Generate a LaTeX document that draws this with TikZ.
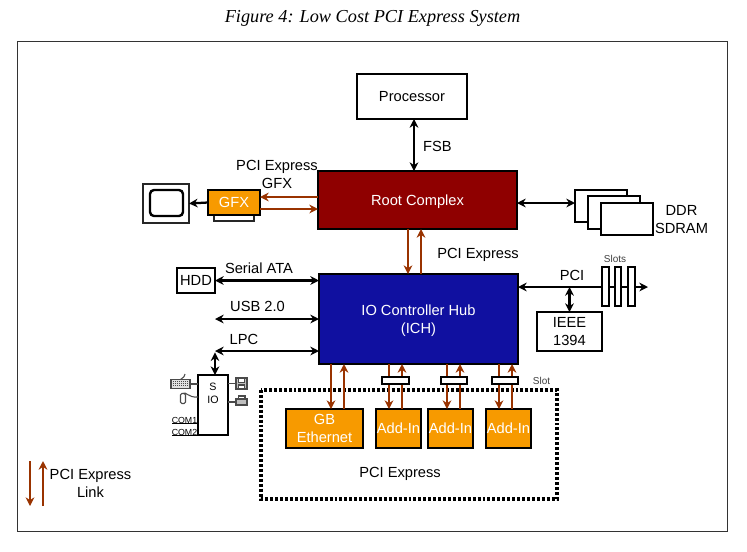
\documentclass[tikz,border=0pt]{standalone}
\usepackage{fontspec}
\setmainfont{Liberation Sans}
\newfontfamily\titlefont{Liberation Serif}
\usetikzlibrary{arrows.meta, positioning, calc}
\definecolor{RootRed}{HTML}{8F0000}
\definecolor{HubBlue}{HTML}{1010A0}
\definecolor{CardOrange}{HTML}{F79A00}
\definecolor{LinkBrown}{HTML}{993300}
\definecolor{IconGray}{HTML}{4A4A4A}
\def\U{0.75pt}
\tikzset{
  busbox/.style={draw=black, line width=1.9pt, inner sep=0pt, outer sep=0pt, align=center, text depth=0pt, font=\fontsize{11}{13.5}\selectfont},
  cardbox/.style={busbox, fill=CardOrange, text=white},
  slotbar/.style={draw=black, fill=white, line width=1.5pt, inner sep=0pt, outer sep=0pt},
  buslabel/.style={inner sep=0pt, align=center, font=\fontsize{11}{13.5}\selectfont},
  smalllabel/.style={inner sep=0pt, text=black!75, font=\fontsize{7.5}{9}\selectfont},
  busline/.style={line width=1.7pt, {Stealth[length=6.5pt,width=6.5pt]}-{Stealth[length=6.5pt,width=6.5pt]}},
  linkdown/.style={LinkBrown, line width=2.1pt, -{Stealth[length=6.5pt,width=6.5pt]}},
  iconline/.style={IconGray, line width=0.8pt}
}
\begin{document}
\begin{tikzpicture}[x=0.75pt, y=-0.75pt]
  \useasboundingbox (0,0) rectangle (747,551);
  % --- title and outer frame ---
  \node[inner sep=0pt, font=\titlefont\itshape\fontsize{13.7}{16}\selectfont] (title) at (372.5,18) {Figure 4: Low Cost PCI Express System};
  \draw[black!80, line width=0.6pt] (17,41) rectangle (727,531);

  % =====================================================================
  % 1. MAIN CHIPS
  % =====================================================================
  \node[busbox, minimum width=110*\U, minimum height=45*\U] (proc) at (412,96.5) {Processor};
  \node[busbox, fill=RootRed, text=white, minimum width=199*\U, minimum height=58*\U] (root) at (417.5,200) {Root Complex};
  \node[busbox, fill=HubBlue, text=white, minimum width=199*\U, minimum height=90*\U] (ich) at (418.5,319) {IO Controller Hub\\(ICH)};
  \draw[busline] (proc.south -| 414,0) -- (root.north -| 414,0);
  \node[buslabel] (fsblabel) at (437.5,146) {FSB};

  % PCI Express link between root and hub
  \draw[linkdown] (root.south -| 408,0) -- (ich.north -| 408,0);
  \draw[linkdown] (ich.north -| 421,0) -- (root.south -| 421,0);
  \node[buslabel] (pcielabel) at (478,255) {PCI Express};

  % =====================================================================
  % 2. GRAPHICS
  % =====================================================================
  \node[draw=black!85, line width=1.8pt, fill=white, minimum width=40*\U, minimum height=8*\U, inner sep=0pt] (gfxfoot) at (234,217) {};
  \node[cardbox, minimum width=52*\U, minimum height=25*\U] (gfx) at (234,202.5) {GFX};
  \node[draw=black!85, line width=1.8pt, minimum width=46*\U, minimum height=39*\U, inner sep=0pt, outer sep=0pt] (monitor) at (166,203.5) {};
  \draw[black, line width=1.8pt, rounded corners=3pt] (150,190) rectangle (183,216);
  \draw[line width=1.7pt, -{Stealth[length=6.5pt,width=6.5pt]}] (gfx.west) -- (monitor.east);
  \draw[linkdown] (root.west |- 0,197) -- (gfx.east |- 0,197);
  \draw[linkdown] (gfx.east |- 0,209) -- (root.west |- 0,209);
  \node[buslabel] (gfxlabel) at (277,174) {PCI Express\\GFX};

  % =====================================================================
  % 3. MEMORY
  % =====================================================================
  \node[busbox, fill=white, minimum width=52*\U, minimum height=32*\U] (ddra) at (601,206) {};
  \node[busbox, fill=white, minimum width=52*\U, minimum height=33*\U] (ddrb) at (614,212.5) {};
  \node[busbox, fill=white, minimum width=52*\U, minimum height=32*\U] (ddrc) at (627,219) {};
  \draw[busline] (root.east |- 0,203) -- (ddra.west |- 0,203);
  \node[buslabel] (ddrlabel) at (681.5,220) {DDR\\SDRAM};

  % =====================================================================
  % 4. PCI AND IEEE 1394
  % =====================================================================
  \coordinate (pciend) at (648,287);
  \draw[busline] (ich.east |- pciend) -- (pciend);
  \foreach \sx/\sname in {605.5/sa, 618/sb, 631.5/sc}
    \node[slotbar, minimum width=6.5*\U, minimum height=39*\U] (\sname) at (\sx,286.5) {};
  \node[busbox, minimum width=65*\U, minimum height=39*\U] (ieee) at (569.5,331.5) {IEEE\\1394};
  \draw[busline] (ieee.north) -- (ieee.north |- pciend);
  \node[buslabel] (pcilabel) at (572,275) {PCI};
  \node[smalllabel] (slotslabel) at (615,259) {Slots};

  % =====================================================================
  % 5. LEFT SIDE BUSES
  % =====================================================================
  \node[busbox, minimum width=38*\U, minimum height=25*\U] (hdd) at (196,280.5) {HDD};
  \draw[busline] (hdd.east) -- (ich.west |- hdd.east);
  \node[buslabel] (atalabel) at (259,268) {Serial ATA};
  \coordinate (usbend) at (215,319);
  \draw[busline] (usbend) -- (ich.west |- usbend);
  \node[buslabel] (usblabel) at (257.5,306) {USB 2.0};
  \coordinate (lpcend) at (215,351);
  \draw[busline] (lpcend) -- (ich.west |- lpcend);
  \node[buslabel] (lpclabel) at (244,339) {LPC};

  % Super IO
  \node[busbox, minimum width=30*\U, minimum height=60*\U] (sio) at (213,405) {};
  \node[buslabel, font=\fontsize{8}{9.75}\selectfont] (siotext) at (213,393.5) {S\\IO};
  \draw[busline, shorten <=1pt] (lpcend) -- (sio.north -| lpcend);

  % keyboard and mouse
  \node[draw=IconGray, fill=black!12, line width=0.8pt, minimum width=19*\U, minimum height=9*\U, inner sep=0pt, outer sep=0pt] (kbd) at (180.5,384) {};
  \foreach \ky in {381.5,383.5,385.5}
    \draw[IconGray, line width=0.9pt, dash pattern=on 1pt off 0.5pt] (173,\ky) -- (188,\ky);
  \draw[iconline] (kbd.north) .. controls (183,377) and (184,378) .. (185,374);
  \draw[iconline] (kbd.east) -- (sio.west |- kbd.east);
  \node[draw=IconGray, fill=white, line width=0.8pt, rounded corners=1pt, minimum width=5*\U, minimum height=10*\U, inner sep=0pt, outer sep=0pt] (mouse) at (183,398.5) {};
  \draw[iconline] (mouse.north) .. controls (186,391) and (188,398) .. (198,397);
  % floppy and printer
  \node[draw=IconGray, fill=black!25, line width=0.8pt, minimum width=11*\U, minimum height=11*\U, inner sep=0pt, outer sep=0pt] (floppy) at (241.5,383.5) {};
  \draw[iconline, fill=white] (238.5,378.5) rectangle (244.5,382.5);
  \draw[iconline, fill=white] (238.5,385) rectangle (244.5,389);
  \draw[iconline] (sio.east |- floppy.west) -- (floppy.west);
  \node[draw=IconGray, fill=black!25, line width=0.8pt, minimum width=11*\U, minimum height=6*\U, inner sep=0pt, outer sep=0pt] (printer) at (241.5,402) {};
  \draw[iconline, fill=white] (238.5,396) rectangle (245,399);
  \draw[iconline] (sio.east |- printer.west) -- (printer.west);

  % serial ports
  \node[inner sep=0pt, font=\fontsize{6.6}{8}\selectfont] (coma) at (184.5,420) {COM1};
  \node[inner sep=0pt, font=\fontsize{6.6}{8}\selectfont] (comb) at (184.5,432) {COM2};
  \draw[line width=0.7pt] (172,423.5) -- (sio.west |- 0,423.5);
  \draw[line width=0.7pt] (172,435.5) -- (sio.west |- 0,435.5);

  % =====================================================================
  % 6. PCI EXPRESS CARDS
  % =====================================================================
  \draw[line width=2.5pt, dash pattern=on 2.2pt off 1.5pt] (261,390) rectangle (557,499);
  \node[buslabel] (cardslabel) at (400,474) {PCI Express};
  \node[cardbox, minimum width=77*\U, minimum height=39*\U] (gbe) at (324.5,428.5) {GB\\Ethernet};
  \node[cardbox, minimum width=45*\U, minimum height=39*\U] (adda) at (398.5,428.5) {Add-In};
  \node[cardbox, minimum width=45*\U, minimum height=39*\U] (addb) at (450.5,428.5) {Add-In};
  \node[cardbox, minimum width=45*\U, minimum height=39*\U] (addc) at (508.5,428.5) {Add-In};
  \draw[linkdown] (ich.south -| 331,0) -- (gbe.north -| 331,0);
  \draw[linkdown] (gbe.north -| 344,0) -- (ich.south -| 344,0);
  \foreach \dx/\ux/\cname in {389/402/adda, 447/460/addb, 499/512/addc} {
    \draw[linkdown] (ich.south -| \dx,0) -- (\cname.north -| \dx,0);
    \draw[linkdown] (\cname.north -| \ux,0) -- (ich.south -| \ux,0);
  }
  % slot connectors sit on top of the links
  \foreach \sx/\sname in {395.5/slota, 454/slotb, 505/slotc}
    \node[slotbar, minimum width=26.5*\U, minimum height=7*\U] (\sname) at (\sx,380.5) {};
  \node[smalllabel] (slotlabel) at (541.5,381) {Slot};

  % =====================================================================
  % 7. LEGEND
  % =====================================================================
  \coordinate (legtop) at (30,461);
  \coordinate (legbot) at (30,506);
  \draw[linkdown] (legtop) -- (legbot);
  \draw[linkdown] ($(legbot)+(13,0)$) -- ($(legtop)+(13,0)$);
  \node[buslabel] (leglabel) at (90.5,483) {PCI Express\\Link};
\end{tikzpicture}
\end{document}
